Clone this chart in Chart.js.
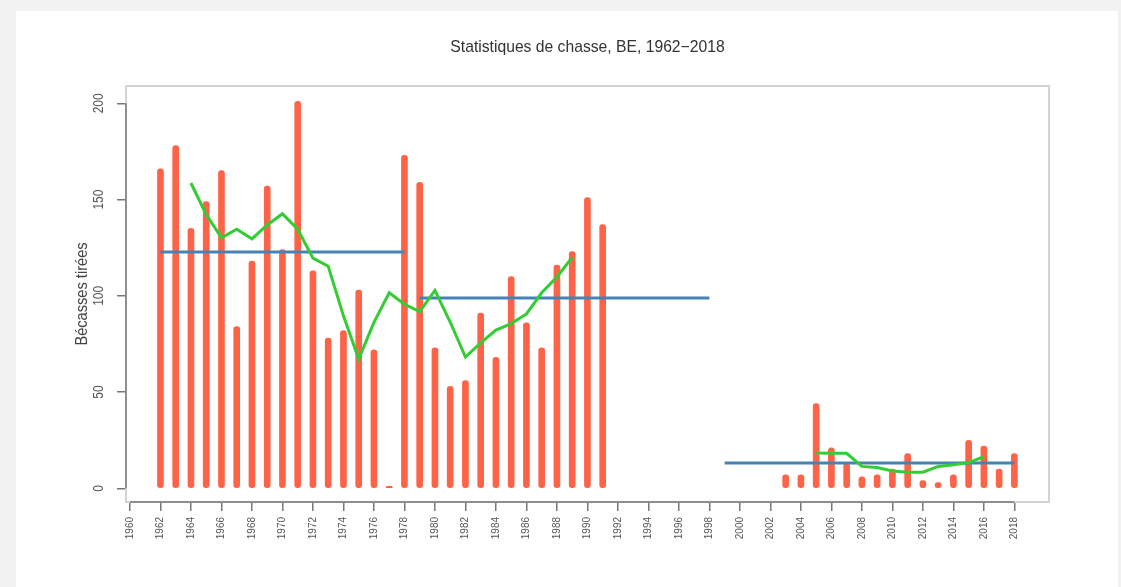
<!DOCTYPE html>
<html lang="fr">
<head>
<meta charset="utf-8">
<title>Statistiques de chasse, BE</title>
<script src="https://cdn.jsdelivr.net/npm/chart.js@4.4.1/dist/chart.umd.min.js"></script>
<style>
  html, body { margin: 0; padding: 0; background: #f2f2f2; }
  #graficaChasse { display: block; }
</style>
</head>
<body>
<canvas id="graficaChasse" width="1121" height="587"></canvas>
<script>
// Bécasses tirées par saison
const annees = [1962, 1963, 1964, 1965, 1966, 1967, 1968, 1969, 1970, 1971,
                1972, 1973, 1974, 1975, 1976, 1977, 1978, 1979, 1980, 1981,
                1982, 1983, 1984, 1985, 1986, 1987, 1988, 1989, 1990, 1991,
                2003, 2004, 2005, 2006, 2007, 2008, 2009, 2010, 2011, 2012,
                2013, 2014, 2015, 2016, 2017, 2018];
const tirees = [166, 178, 135, 149, 165, 84, 118, 157, 124, 201,
                113, 78, 82, 103, 72, 1, 173, 159, 73, 53,
                56, 91, 68, 110, 86, 73, 116, 123, 151, 137,
                7, 7, 44, 21, 13, 6, 7, 10, 18, 4,
                3, 7, 25, 22, 10, 18];

// moyenne mobile sur 5 ans (deux tronçons)
const mmAnnees1 = [1964, 1965, 1966, 1967, 1968, 1969, 1970, 1971, 1972, 1973, 1974, 1975, 1976,
                   1977, 1978, 1979, 1980, 1981, 1982, 1983, 1984, 1985, 1986, 1987, 1988, 1989];
const mmValeurs1 = [158.6, 142.2, 130.2, 134.6, 129.6, 136.8, 142.6, 134.6, 119.6, 115.4, 89.6, 67.2, 86.2,
                    101.6, 95.6, 91.8, 102.8, 86.4, 68.2, 75.6, 82.2, 85.6, 90.6, 101.6, 109.8, 120.0];
const mmAnnees2 = [2005, 2006, 2007, 2008, 2009, 2010, 2011, 2012, 2013, 2014, 2015, 2016];
const mmValeurs2 = [18.4, 18.2, 18.2, 11.4, 10.8, 9.0, 8.4, 8.4, 11.4, 12.2, 13.4, 16.4];

// moyennes par période
const periodeDebut = [1962, 1979, 1999];
const periodeFin = [1978, 1998, 2018];
const periodeMoyenne = [122.8, 98.9, 13.2];

const ticksY = [0, 50, 100, 150, 200];

function dibujarGraficaChasse() {
    const ctx = document.getElementById('graficaChasse').getContext('2d');

    const barras = annees.map((a, i) => ({ x: a, y: tirees[i] }));

    const moyMobile = mmAnnees1.map((a, i) => ({ x: a, y: mmValeurs1[i] }));
    moyMobile.push({ x: 1997, y: null });
    mmAnnees2.forEach((a, i) => moyMobile.push({ x: a, y: mmValeurs2[i] }));

    const moyPeriodes = [];
    periodeDebut.forEach((d, i) => {
        moyPeriodes.push({ x: d, y: periodeMoyenne[i] });
        moyPeriodes.push({ x: periodeFin[i], y: periodeMoyenne[i] });
        moyPeriodes.push({ x: periodeFin[i] + 0.5, y: null });
    });

    const police = '"Liberation Sans", Arial, sans-serif';

    // fond, cadre, axes et textes dessinés à la main
    const decor = {
        id: 'decor',
        beforeDraw(chart) {
            const c = chart.ctx;
            c.save();
            c.fillStyle = '#f2f2f2';
            c.fillRect(0, 0, chart.width, chart.height);
            c.fillStyle = '#ffffff';
            c.fillRect(16, 11, 1102, chart.height - 11);
            c.restore();
        },
        afterDatasetsDraw(chart) {
            const c = chart.ctx;
            const a = chart.chartArea;
            const sx = chart.scales.x;
            const sy = chart.scales.y;
            c.save();
            // cadre
            c.strokeStyle = '#d4d4d4';
            c.lineWidth = 2;
            c.strokeRect(a.left, a.top, a.right - a.left, a.bottom - a.top);
            // axes
            c.strokeStyle = '#777777';
            c.lineWidth = 1.5;
            c.beginPath();
            c.moveTo(a.left, sy.getPixelForValue(0));
            c.lineTo(a.left, sy.getPixelForValue(200));
            c.moveTo(sx.getPixelForValue(1960), a.bottom);
            c.lineTo(sx.getPixelForValue(2018), a.bottom);
            c.stroke();
            // étiquettes de l'axe y, verticales
            c.fillStyle = '#555555';
            c.font = '15px ' + police;
            c.textAlign = 'center';
            c.textBaseline = 'middle';
            ticksY.forEach(v => {
                c.save();
                c.translate(99, sy.getPixelForValue(v));
                c.rotate(-Math.PI / 2);
                c.scale(0.8, 1);
                c.fillText(String(v), 0, 0);
                c.restore();
            });
            // titre de l'axe y
            c.save();
            c.fillStyle = '#444444';
            c.font = '17px ' + police;
            c.translate(82, (a.top + a.bottom) / 2);
            c.rotate(-Math.PI / 2);
            c.scale(0.86, 1);
            c.fillText('Bécasses tirées', 0, 0);
            c.restore();
            // titre
            c.fillStyle = '#333333';
            c.font = '15.7px ' + police;
            c.fillText('Statistiques de chasse, BE, 1962\u22122018', (a.left + a.right) / 2, 48);
            c.restore();
        }
    };

    window.graficaChasse = new Chart(ctx, {
        data: {
            datasets: [
                {
                    type: 'line',
                    label: 'Moyenne mobile 5 ans',
                    data: moyMobile,
                    borderColor: '#32CD32',
                    borderWidth: 3,
                    pointRadius: 0,
                    tension: 0,
                    spanGaps: false,
                    order: 1
                },
                {
                    type: 'line',
                    label: 'Moyenne de la période',
                    data: moyPeriodes,
                    borderColor: '#4682B4',
                    borderWidth: 3,
                    pointRadius: 0,
                    tension: 0,
                    spanGaps: false,
                    order: 2
                },
                {
                    type: 'bar',
                    label: 'Bécasses tirées',
                    data: barras,
                    backgroundColor: '#FF6347',
                    barThickness: 6,
                    borderRadius: 3,
                    borderSkipped: false,
                    order: 3
                }
            ]
        },
        options: {
            responsive: false,
            animation: false,
            devicePixelRatio: 1,
            layout: { padding: { left: 0, top: 86, right: 72, bottom: 0 } },
            plugins: {
                legend: { display: false },
                title: { display: false },
                tooltip: { enabled: false }
            },
            scales: {
                x: {
                    type: 'linear',
                    offset: false,
                    min: 1959.74,
                    max: 2020.27,
                    afterBuildTicks: s => {
                        s.ticks = s.ticks.filter(t => t.value >= 1960 && t.value <= 2018);
                    },
                    afterFit: s => { s.height = 85; },
                    border: { display: false },
                    grid: {
                        display: true,
                        offset: false,
                        drawOnChartArea: false,
                        drawTicks: true,
                        tickLength: 9,
                        color: '#777777',
                        lineWidth: 1.5
                    },
                    ticks: {
                        stepSize: 2,
                        includeBounds: false,
                        autoSkip: false,
                        minRotation: 90,
                        maxRotation: 90,
                        padding: 6,
                        color: '#555555',
                        font: { family: police, size: 10 },
                        callback: v => String(v)
                    }
                },
                y: {
                    type: 'linear',
                    min: -7.1,
                    max: 209,
                    afterBuildTicks: s => {
                        s.ticks = ticksY.map(v => ({ value: v }));
                    },
                    afterFit: s => { s.width = 126; },
                    border: { display: false },
                    grid: {
                        display: true,
                        drawOnChartArea: false,
                        drawTicks: true,
                        tickLength: 9,
                        color: '#777777',
                        lineWidth: 1.5
                    },
                    ticks: { display: false }
                }
            }
        },
        plugins: [decor]
    });
}

dibujarGraficaChasse();
</script>
</body>
</html>
